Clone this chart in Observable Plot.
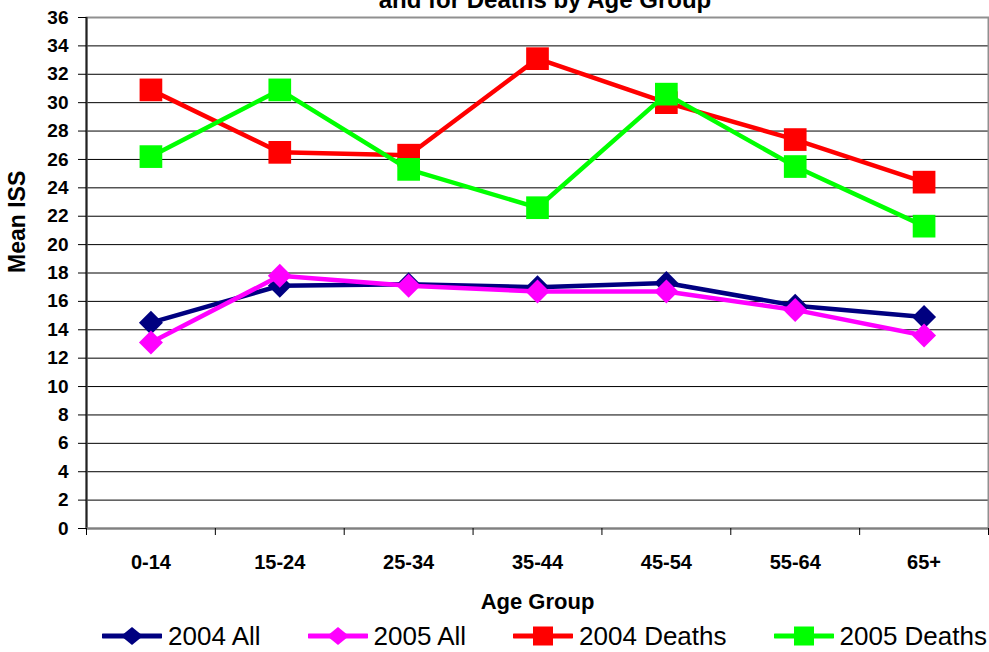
<!DOCTYPE html>
<html>
<head>
<meta charset="utf-8">
<script src="https://cdn.jsdelivr.net/npm/d3@7"></script>
<script src="https://cdn.jsdelivr.net/npm/@observablehq/plot@0.6"></script>
<style>
  html, body { margin: 0; padding: 0; background: #fff; }
  #wrap { position: relative; width: 989px; height: 652px; overflow: hidden; font-family: 'Liberation Sans', Arial, sans-serif; }
  #title { position: absolute; top: -12px; left: 545px; transform: translateX(-50%); white-space: nowrap;
           font-size: 24px; font-weight: bold; line-height: 24px; color: #000; }
  #legend { position: absolute; left: 102px; top: 616px; display: flex; gap: 47px; align-items: center; height: 40px; }
  .item { display: flex; align-items: center; gap: 6px; font-size: 26px; color: #000; line-height: 40px; }
  .item svg { display: block; }
</style>
</head>
<body>
<div id="wrap">
  <div id="chart"></div>
  <div id="title">and for Deaths by Age Group</div>
  <div id="legend"></div>
</div>
<script>
const categories = ["0-14", "15-24", "25-34", "35-44", "45-54", "55-64", "65+"];
const all2004    = [14.5, 17.1, 17.2, 17.0, 17.3, 15.7, 14.9];
const all2005    = [13.1, 17.8, 17.1, 16.7, 16.7, 15.4, 13.6];
const deaths2004 = [30.9, 26.5, 26.3, 33.1, 30.0, 27.4, 24.4];
const deaths2005 = [26.2, 30.9, 25.3, 22.6, 30.6, 25.5, 21.3];
const seriesNames = ["2004 All", "2005 All", "2004 Deaths", "2005 Deaths"];
const yTicks = [0, 2, 4, 6, 8, 10, 12, 14, 16, 18, 20, 22, 24, 26, 28, 30, 32, 34, 36];

const seriesValues = [all2004, all2005, deaths2004, deaths2005];
const seriesStyle = [
  {color: "#000080", symbol: "diamond2", r: 10.8},
  {color: "#FF00FF", symbol: "diamond2", r: 10.8},
  {color: "#FF0000", symbol: "square", r: 12.8},
  {color: "#00FF00", symbol: "square", r: 12.8}
];

const idx = categories.map((_, i) => i);
const boundaries = categories.map((_, i) => i - 0.5).concat([categories.length - 0.5]);

const marks = [
  Plot.gridY(yTicks, {stroke: "#000", strokeOpacity: 1, strokeWidth: 1}),
  Plot.frame({stroke: "#909090", strokeWidth: 2}),
  Plot.ruleX([-0.5], {stroke: "#222", strokeWidth: 2}),
  Plot.ruleY([0], {stroke: "#808080", strokeWidth: 2}),
  Plot.axisY({ticks: yTicks, tickSize: 8, tickPadding: 10, fontSize: 19, fontWeight: "bold", label: null}),
  Plot.axisX({ticks: boundaries, tickSize: 7, tickFormat: () => "", label: null}),
  Plot.axisX({ticks: idx, tickSize: 0, tickPadding: 26, fontSize: 20, fontWeight: "bold",
              tickFormat: i => categories[i], label: null}),
  Plot.text(["Age Group"], {frameAnchor: "bottom", dy: 73, lineAnchor: "middle", fontSize: 22, fontWeight: "bold", fill: "#000"}),
  Plot.text(["Mean ISS"], {frameAnchor: "left", dx: -69, rotate: -90, lineAnchor: "middle", fontSize: 23, fontWeight: "bold", fill: "#000"})
];

seriesValues.forEach((vals, s) => {
  const rows = vals.map((v, i) => ({i, v}));
  const st = seriesStyle[s];
  marks.push(Plot.line(rows, {x: "i", y: "v", stroke: st.color, strokeWidth: 4.5}));
  marks.push(Plot.dot(rows, {x: "i", y: "v", symbol: st.symbol, r: st.r, fill: st.color, stroke: "none"}));
});

const chart = Plot.plot({
  width: 989,
  height: 614,
  marginLeft: 86,
  marginRight: 1,
  marginTop: 17,
  marginBottom: 86,
  x: {type: "linear", domain: [-0.5, categories.length - 0.5]},
  y: {domain: [0, 36]},
  style: {fontFamily: "'Liberation Sans', Arial, sans-serif", color: "#000", background: "#fff", overflow: "visible"},
  marks
});
document.getElementById("chart").appendChild(chart);

// Legend
const legend = document.getElementById("legend");
seriesNames.forEach((name, s) => {
  const st = seriesStyle[s];
  const item = document.createElement("div");
  item.className = "item";
  const ns = "http://www.w3.org/2000/svg";
  const svg = document.createElementNS(ns, "svg");
  svg.setAttribute("width", 60);
  svg.setAttribute("height", 24);
  const line = document.createElementNS(ns, "line");
  line.setAttribute("x1", 1); line.setAttribute("x2", 59);
  line.setAttribute("y1", 12); line.setAttribute("y2", 12);
  line.setAttribute("stroke", st.color); line.setAttribute("stroke-width", 5);
  line.setAttribute("stroke-linecap", "round");
  svg.appendChild(line);
  let m;
  if (st.symbol === "square") {
    m = document.createElementNS(ns, "rect");
    m.setAttribute("x", 20); m.setAttribute("y", 2.5); m.setAttribute("width", 20); m.setAttribute("height", 19);
  } else {
    m = document.createElementNS(ns, "polygon");
    m.setAttribute("points", "30,3 41,12 30,21 19,12");
  }
  m.setAttribute("fill", st.color);
  svg.appendChild(m);
  const label = document.createElement("span");
  label.textContent = name;
  item.appendChild(svg);
  item.appendChild(label);
  legend.appendChild(item);
});
</script>
</body>
</html>
